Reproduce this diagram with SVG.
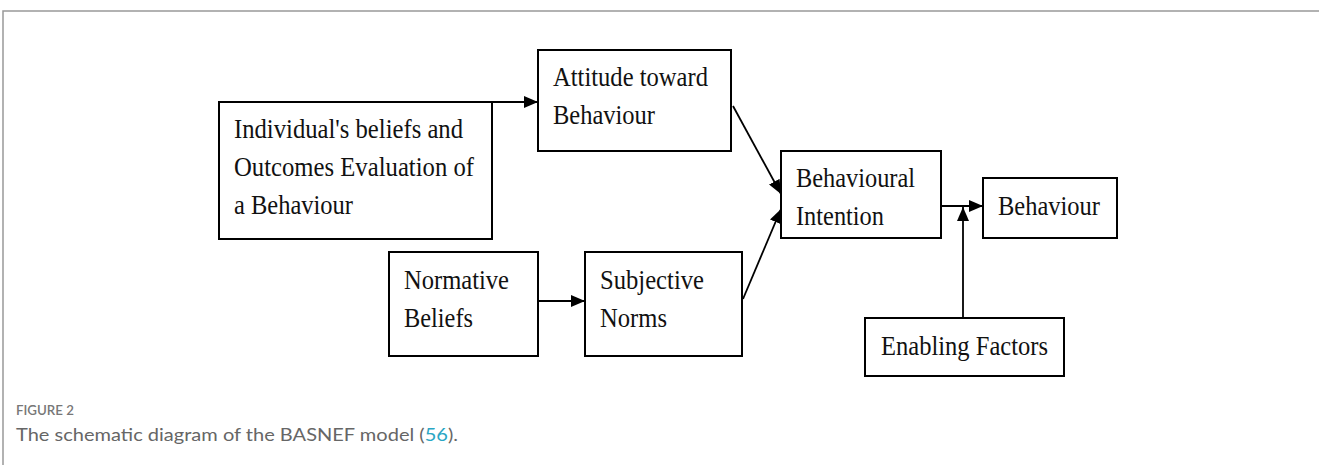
<svg xmlns="http://www.w3.org/2000/svg" width="1319" height="465" viewBox="0 0 1319 465">
<style>
.box{fill:#fff;stroke:#000;stroke-width:2}
.t{font-family:"Liberation Serif","Times New Roman",serif;font-size:27.5px;fill:#111}
.c{stroke:#000;stroke-width:1.8;fill:none}
.frame{stroke:#999;stroke-width:1.5;fill:none}
.cap1{font-family:Lato,"Open Sans",sans-serif;font-size:14px;font-weight:600;fill:#777}
.cap2{font-family:Lato,"Open Sans",sans-serif;font-size:18px;fill:#666}
</style>
<defs>
<marker id="ah" markerWidth="14" markerHeight="12" refX="14" refY="6" orient="auto" markerUnits="userSpaceOnUse">
<path d="M0,0 L14,6 L0,12 Z" fill="#000"/>
</marker>
</defs>
<rect width="1319" height="465" fill="#fff"/>
<path class="frame" d="M3,465 L3,11 L1319,11"/>
<g id="connectors">
<path class="c" d="M492,102 L538,102" marker-end="url(#ah)"/>
<path class="c" d="M733,106 L781,194" marker-end="url(#ah)"/>
<path class="c" d="M743,299 L781,209" marker-end="url(#ah)"/>
<path class="c" d="M538,301 L585,301" marker-end="url(#ah)"/>
<path class="c" d="M941,206 L983,206" marker-end="url(#ah)"/>
<path class="c" d="M963,318 L963,207" marker-end="url(#ah)"/>
</g>
<g id="individual">
<rect class="box" x="219" y="102" width="273" height="137"/>
<text class="t" x="234" y="138" textLength="229" lengthAdjust="spacingAndGlyphs">Individual's beliefs and</text>
<text class="t" x="234" y="176" textLength="240" lengthAdjust="spacingAndGlyphs">Outcomes Evaluation of</text>
<text class="t" x="234" y="214" textLength="119" lengthAdjust="spacingAndGlyphs">a Behaviour</text>
</g>
<g id="attitude">
<rect class="box" x="538" y="50" width="193" height="101"/>
<text class="t" x="553" y="86" textLength="155" lengthAdjust="spacingAndGlyphs">Attitude toward</text>
<text class="t" x="553" y="124" textLength="102" lengthAdjust="spacingAndGlyphs">Behaviour</text>
</g>
<g id="intention">
<rect class="box" x="781" y="151" width="160" height="87"/>
<text class="t" x="796" y="187" textLength="119" lengthAdjust="spacingAndGlyphs">Behavioural</text>
<text class="t" x="796" y="225" textLength="88" lengthAdjust="spacingAndGlyphs">Intention</text>
</g>
<g id="behaviour">
<rect class="box" x="983" y="178" width="134" height="60"/>
<text class="t" x="998" y="215" textLength="102" lengthAdjust="spacingAndGlyphs">Behaviour</text>
</g>
<g id="normative">
<rect class="box" x="389" y="252" width="149" height="104"/>
<text class="t" x="404" y="289" textLength="105" lengthAdjust="spacingAndGlyphs">Normative</text>
<text class="t" x="404" y="327" textLength="69" lengthAdjust="spacingAndGlyphs">Beliefs</text>
</g>
<g id="subjective">
<rect class="box" x="585" y="252" width="157" height="104"/>
<text class="t" x="600" y="289" textLength="104" lengthAdjust="spacingAndGlyphs">Subjective</text>
<text class="t" x="600" y="327" textLength="67" lengthAdjust="spacingAndGlyphs">Norms</text>
</g>
<g id="enabling">
<rect class="box" x="865" y="318" width="199" height="58"/>
<text class="t" x="881" y="355" textLength="167" lengthAdjust="spacingAndGlyphs">Enabling Factors</text>
</g>
<g id="caption">
<text class="cap1" x="16" y="415" textLength="58" lengthAdjust="spacingAndGlyphs">FIGURE 2</text>
<text class="cap2" x="16" y="441" textLength="442" lengthAdjust="spacingAndGlyphs">The schematic diagram of the BASNEF model (<tspan fill="#2aa6c4">56</tspan>).</text>
</g>
</svg>
